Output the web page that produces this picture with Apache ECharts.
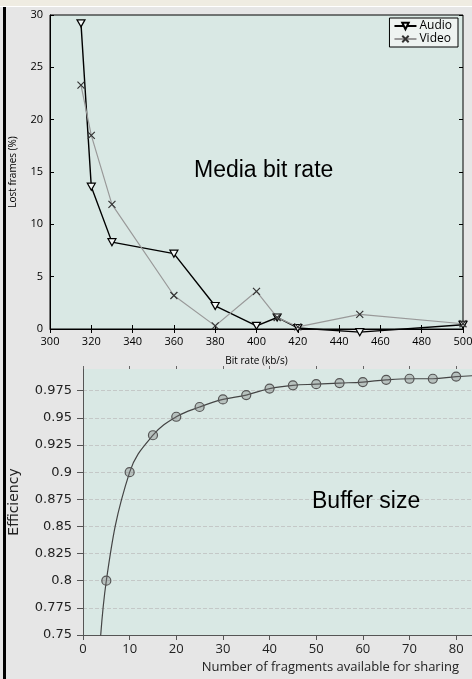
<!DOCTYPE html>
<html>
<head>
<meta charset="utf-8">
<script src="https://cdn.jsdelivr.net/npm/echarts@6/dist/echarts.min.js"></script>
<style>
  html, body { margin: 0; padding: 0; background: #e6e6e6; }
  #chart { width: 472px; height: 679px; }
</style>
</head>
<body>
<div id="chart"></div>
<script>
// top panel: lost frames vs bit rate
const bitRate = [315, 320, 330, 360, 380, 400, 410, 420, 450, 500];
const audioLost = [29.2, 13.6, 8.3, 7.2, 2.2, 0.3, 1.1, 0.1, -0.3, 0.4];
const videoLost = [23.3, 18.5, 11.9, 3.2, 0.3, 3.6, 1.1, 0.2, 1.4, 0.5];

// bottom panel: efficiency vs fragments (first/last points lie outside the view)
const fragments = [3, 5, 10, 15, 20, 25, 30, 35, 40, 45, 50, 55, 60, 65, 70, 75, 80, 85];
const efficiency = [0.69, 0.8, 0.9, 0.934, 0.951, 0.96, 0.967, 0.971, 0.977, 0.98, 0.981, 0.982, 0.983, 0.985, 0.986, 0.986, 0.988, 0.989];

const FRAG_MAX = 83.4;
const EFF_MIN = 0.75, EFF_MAX = 0.995;

const pairs = (xs, ys) => xs.map((x, i) => [x, ys[i]]);

const chart = echarts.init(document.getElementById('chart'));

const teal = '#d9e8e4';
const smallFont = 'Open Sans';

const option = {
    backgroundColor: '#e6e6e6',
    animation: false,
    grid: [
        { left: 50, top: 15, width: 413, height: 314, outerBoundsMode: 'none', show: true, backgroundColor: teal, borderColor: '#000', borderWidth: 1 },
        { left: 83, top: 369, right: 0, height: 266, outerBoundsMode: 'none', show: true, backgroundColor: teal, borderWidth: 0 }
    ],
    legend: {
        data: ['Audio', 'Video'],
        orient: 'vertical',
        right: 14,
        top: 18,
        itemWidth: 22,
        itemHeight: 8,
        itemGap: 1,
        padding: [2, 6, 2, 4],
        backgroundColor: '#eef3f1',
        borderColor: '#000',
        borderWidth: 1,
        borderRadius: 0,
        textStyle: { fontFamily: smallFont, fontSize: 12, color: '#000', padding: [0, 0, 0, -2] }
    },
    xAxis: [
        {
            gridIndex: 0, type: 'value', min: 300, max: 500, interval: 20,
            name: 'Bit rate (kb/s)', nameLocation: 'middle', nameGap: 27,
            nameTextStyle: { fontFamily: smallFont, fontSize: 10, color: '#000' },
            axisLine: { lineStyle: { color: '#000' } },
            axisTick: { inside: true, length: 4, lineStyle: { color: '#000' } },
            axisLabel: { fontFamily: smallFont, fontSize: 11, color: '#000', margin: 7 },
            splitLine: { show: false }
        },
        {
            gridIndex: 0, type: 'value', min: 300, max: 500, interval: 20, position: 'top',
            axisLine: { show: false },
            axisTick: { inside: true, length: 4, lineStyle: { color: '#000' } },
            axisLabel: { show: false },
            splitLine: { show: false }
        },
        {
            gridIndex: 1, type: 'value', min: 0, max: FRAG_MAX, interval: 10,
            name: 'Number of fragments available for sharing', nameLocation: 'end', nameGap: -13,
            nameTextStyle: { fontFamily: smallFont, fontSize: 13, color: '#222', align: 'right', verticalAlign: 'top', padding: [26, 0, 0, 0] },
            axisLine: { lineStyle: { color: '#555' } },
            axisTick: { length: 5, lineStyle: { color: '#555' } },
            axisLabel: { fontFamily: smallFont, fontSize: 13, color: '#222', margin: 8, showMaxLabel: false },
            splitLine: { show: false }
        },
        {
            gridIndex: 1, type: 'value', min: 0, max: FRAG_MAX, interval: 10, position: 'top',
            axisLine: { show: false },
            axisTick: { length: 3, lineStyle: { color: '#666' } },
            axisLabel: { show: false },
            splitLine: { show: false }
        }
    ],
    yAxis: [
        {
            gridIndex: 0, type: 'value', min: 0, max: 30, interval: 5,
            name: 'Lost frames (%)', nameLocation: 'middle', nameGap: 32,
            nameTextStyle: { fontFamily: smallFont, fontSize: 10, color: '#000' },
            axisLine: { lineStyle: { color: '#000' } },
            axisTick: { inside: true, length: 4, lineStyle: { color: '#000' } },
            axisLabel: { fontFamily: smallFont, fontSize: 11, color: '#000', margin: 7 },
            splitLine: { show: false }
        },
        {
            gridIndex: 0, type: 'value', min: 0, max: 30, interval: 5, position: 'right',
            axisLine: { show: false },
            axisTick: { inside: true, length: 4, lineStyle: { color: '#000' } },
            axisLabel: { show: false },
            splitLine: { show: false }
        },
        {
            gridIndex: 1, type: 'value', min: EFF_MIN, max: EFF_MAX, interval: 0.025,
            name: 'Efficiency', nameLocation: 'middle', nameGap: 62,
            nameTextStyle: { fontFamily: 'DejaVu Sans', fontSize: 14, color: '#222' },
            axisLine: { lineStyle: { color: '#555' } },
            axisTick: { length: 6, lineStyle: { color: '#555' } },
            axisLabel: { fontFamily: 'DejaVu Sans', fontSize: 13, color: '#222', margin: 11, showMaxLabel: false },
            splitLine: { showMinLine: false, showMaxLine: false, lineStyle: { color: '#c4c8c7', type: [4, 2], width: 1 } }
        }
    ],
    series: [
        {
            name: 'Audio', type: 'line', xAxisIndex: 0, yAxisIndex: 0,
            data: pairs(bitRate, audioLost),
            clip: false,
            symbol: 'triangle', symbolRotate: 180, symbolSize: [8, 7],
            lineStyle: { color: '#000', width: 1.4 },
            itemStyle: { color: '#f4f8f7', borderColor: '#000', borderWidth: 1.2 }
        },
        {
            name: 'Video', type: 'line', xAxisIndex: 0, yAxisIndex: 0,
            data: pairs(bitRate, videoLost),
            symbol: 'path://M0,0L10,10M10,0L0,10', symbolSize: 7,
            lineStyle: { color: '#999', width: 1.2 },
            itemStyle: { color: 'transparent', borderColor: '#333', borderWidth: 1.2 }
        },
        {
            name: 'Efficiency', type: 'line', xAxisIndex: 2, yAxisIndex: 2,
            data: pairs(fragments, efficiency).map(p => ({
                value: p,
                symbol: (p[0] > FRAG_MAX || p[1] < EFF_MIN) ? 'none' : 'circle'
            })),
            smooth: 0.4,
            symbolSize: 9,
            lineStyle: { color: '#444', width: 1.2 },
            itemStyle: { color: 'rgba(120,120,120,0.35)', borderColor: '#555', borderWidth: 1.2 }
        }
    ],
    graphic: [
        { type: 'rect', z: 100, shape: { x: 0, y: 0, width: 472, height: 6 }, style: { fill: '#efece2' } },
        { type: 'rect', z: 100, shape: { x: 0, y: 6, width: 472, height: 1 }, style: { fill: '#ffffff' } },
        { type: 'rect', z: 100, shape: { x: 3, y: 7, width: 3, height: 672 }, style: { fill: '#000' } },
        {
            type: 'text', z: 50, left: 266 - 72, top: 159,
            style: { text: 'Media bit rate', fontFamily: 'Liberation Sans', fontSize: 23, fill: '#000' }
        },
        {
            type: 'text', z: 50, left: 312, top: 490,
            style: { text: 'Buffer size', fontFamily: 'Liberation Sans', fontSize: 23, fill: '#000' }
        }
    ]
};

chart.setOption(option);
</script>
</body>
</html>
